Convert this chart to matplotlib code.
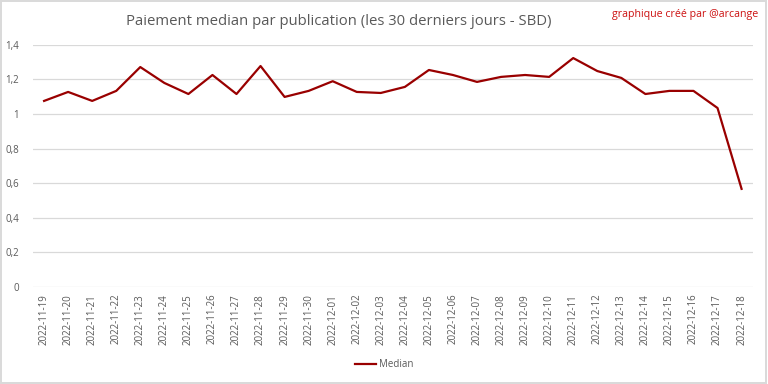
import matplotlib.pyplot as plt
from matplotlib.patches import Rectangle

plt.rcParams['font.family'] = ['Open Sans', 'DejaVu Sans']

dates = ['2022-11-19', '2022-11-20', '2022-11-21', '2022-11-22', '2022-11-23',
         '2022-11-24', '2022-11-25', '2022-11-26', '2022-11-27', '2022-11-28',
         '2022-11-29', '2022-11-30', '2022-12-01', '2022-12-02', '2022-12-03',
         '2022-12-04', '2022-12-05', '2022-12-06', '2022-12-07', '2022-12-08',
         '2022-12-09', '2022-12-10', '2022-12-11', '2022-12-12', '2022-12-13',
         '2022-12-14', '2022-12-15', '2022-12-16', '2022-12-17', '2022-12-18']
median = [1.076, 1.128, 1.076, 1.134, 1.272, 1.180, 1.116, 1.226, 1.116, 1.278,
          1.099, 1.134, 1.190, 1.128, 1.122, 1.157, 1.255, 1.226, 1.186, 1.215,
          1.226, 1.215, 1.324, 1.249, 1.209, 1.116, 1.134, 1.134, 1.035, 0.567]
yticks = [0, 0.2, 0.4, 0.6, 0.8, 1, 1.2, 1.4]
ylabels = ['0', '0,2', '0,4', '0,6', '0,8', '1', '1,2', '1,4']

fig = plt.figure(figsize=(7.68, 3.84), dpi=100)
ax = fig.add_axes([0.043, 0.253, 0.937, 0.630])

x = range(len(dates))
ax.plot(x, median, color='#990000', lw=1.6, label='Median')

ax.set_xlim(-0.46, len(dates) - 0.54)
ax.set_ylim(0, 1.4)
ax.set_yticks(yticks)
ax.set_yticklabels(ylabels)
ax.set_xticks(list(x))
ax.set_xticklabels(dates, rotation=90)
ax.tick_params(axis='both', length=0, labelsize=7, labelcolor='#595959')
ax.tick_params(axis='y', pad=10)
ax.tick_params(axis='x', pad=5)
ax.grid(axis='y', color='#d9d9d9', lw=0.9)
ax.set_axisbelow(True)
for s in ax.spines.values():
    s.set_visible(False)

fig.text(0.441, 0.943, 'Paiement median par publication (les 30 derniers jours - SBD)',
         ha='center', va='center', fontsize=10.75, color='#595959')
fig.text(0.987, 0.962, 'graphique créé par @arcange', ha='right', va='center',
         fontsize=7.7, color='#cc1111')

fig.legend(loc='center', bbox_to_anchor=(0.5, 0.05), frameon=False,
           fontsize=7, labelcolor='#595959', handlelength=2.2, handletextpad=0.3)

fig.patches.append(Rectangle((0.001, 0.003), 0.997, 0.995, transform=fig.transFigure,
                             fill=False, edgecolor='#d9d9d9', lw=1.4))

fig.savefig('out.png', dpi=100)
